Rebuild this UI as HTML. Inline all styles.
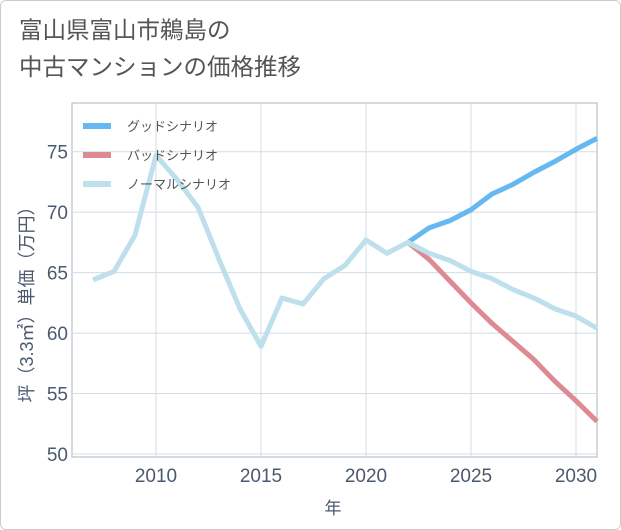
<!DOCTYPE html>
<html><head><meta charset="utf-8"><style>
body{margin:0;background:#fff;}
#wrap{position:relative;width:619px;height:528px;border:1px solid #ccc;border-radius:6px;overflow:hidden;font-family:"Liberation Sans","Noto Sans CJK JP",sans-serif;}
#title{position:absolute;left:18px;top:11px;font-size:23.5px;line-height:37px;color:#555;}
</style></head><body>
<div id="wrap">
<div id="title">富山県富山市鵜島の<br>中古マンションの価格推移</div>
<svg id="chart" width="621" height="530" style="position:absolute;left:-1px;top:-1px"></svg>
</div>
<script>
const years=[2007,2008,2009,2010,2011,2012,2013,2014,2015,2016,2017,2018,2019,2020,2021,2022,2023,2024,2025,2026,2027,2028,2029,2030,2031];
const normal=[64.4,65.1,68.1,74.7,72.7,70.4,66.1,62.0,58.9,62.9,62.4,64.5,65.6,67.7,66.6,67.5,66.6,66.0,65.1,64.5,63.6,62.9,62.0,61.4,60.4];
const goodYears=[2022,2023,2024,2025,2026,2027,2028,2029,2030,2031];
const good=[67.5,68.7,69.3,70.2,71.5,72.3,73.3,74.2,75.2,76.1];
const bad=[67.5,66.1,64.3,62.5,60.8,59.3,57.8,56.0,54.4,52.7];
const yTicks=[50,55,60,65,70,75];
const xTicks=[2010,2015,2020,2025,2030];
const NS='http://www.w3.org/2000/svg';
const svg=document.getElementById('chart');
const L=72,R=597,T=103,B=457;
const x=v=>L+(v-2006)*(R-L)/25;
const y=v=>454-(v-50)*(454-151.7)/25;
function el(t,a){const e=document.createElementNS(NS,t);for(const k in a)e.setAttribute(k,a[k]);svg.appendChild(e);return e;}
let e=el('rect',{x:L,y:T,width:R-L,height:B-T,fill:'#fff',stroke:'#a8b4c0','stroke-width':1});


yTicks.forEach(v=>{
 let g=el('line',{x1:L,x2:R,y1:y(v),y2:y(v),stroke:'#d3dce5','stroke-width':1});
 
 
 let t=el('text',{x:L-4,y:y(v)+7,'text-anchor':'end','font-size':19,fill:'#4a5a6e'});
 t.textContent=v;
 
 
});
xTicks.forEach(v=>{
 let g=el('line',{x1:x(v),x2:x(v),y1:T,y2:B,stroke:'#d3dce5','stroke-width':1});
 
 
 let t=el('text',{x:x(v),y:482,'text-anchor':'middle','font-size':19,fill:'#4a5a6e'});
 t.textContent=v;
 
 
});
function line(xs,ys,color,name){
 const p=el('polyline',{points:xs.map((v,i)=>x(v)+','+y(ys[i])).join(' '),fill:'none',stroke:color,'stroke-width':5,'stroke-linejoin':'round'});
 
 
}
line(goodYears,bad,'#de8a92','bad-scenario-line');
line(goodYears,good,'#66b8f0','good-scenario-line');
line(years,normal,'#bde0ec','normal-scenario-line');
const leg=[['グッドシナリオ','#66b8f0'],['バッドシナリオ','#de8a92'],['ノーマルシナリオ','#bde0ec']];
leg.forEach((d,i)=>{
 const yy=126+i*29;
 let l=el('line',{x1:83,x2:111,y1:yy,y2:yy,stroke:d[1],'stroke-width':6});
 
 
 let t=el('text',{x:127,y:yy+5,'font-size':13,fill:'#555'});
 t.textContent=d[0];
 
 
});
let xt=el('text',{x:333,y:514,'text-anchor':'middle','font-size':17,fill:'#4a5a6e'});
xt.textContent='年';


let yt=el('text',{x:0,y:0,'text-anchor':'middle','font-size':18,fill:'#4a5a6e',transform:'translate(33,300) rotate(-90)'});
yt.textContent='坪（3.3㎡）単価（万円）';


</script>
</body></html>
